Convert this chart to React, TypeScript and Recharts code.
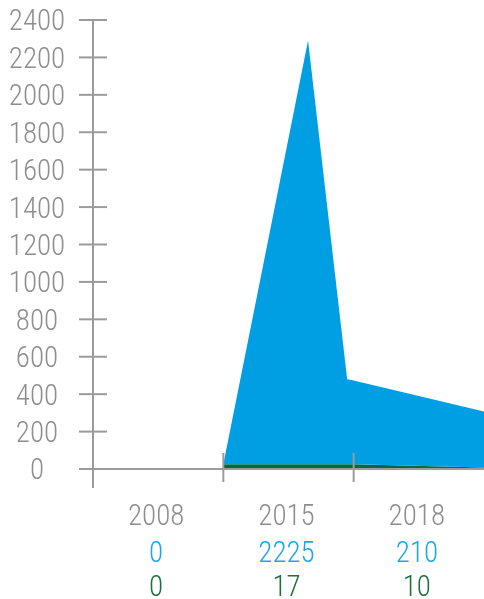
import { Area, ComposedChart, XAxis, YAxis } from "recharts";

const years = ["2008", "2015", "2018"];
const blueTotals = [0, 2225, 210];
const greenTotals = [0, 17, 10];
const yTicks = [0, 200, 400, 600, 800, 1000, 1200, 1400, 1600, 1800, 2000, 2200, 2400];

// area series, x measured in category bands
const areaX = [1, 1.65, 1.95, 2, 3];
const blueArea = [0, 2265, 455, 448, 300];
const greenArea = [25, 25, 25, 25, 8];

const data = areaX.map((x, i) => ({ x, blue: blueArea[i], green: greenArea[i] }));

const AXIS = "#9b9b9b";
const BLUE = "#009fe3";
const GREEN = "#006b3a";
const FONT = "'Roboto Condensed', 'Liberation Sans Narrow', sans-serif";

function YTick({ x, y, payload }: any) {
  return (
    <g>
      <line x1={x - 14} x2={x + 14} y1={y} y2={y} stroke={AXIS} strokeWidth={2} />
      <text x={x - 56} y={y} dy="0.36em" textAnchor="middle" fill="#8e8e8e" fontSize={29} fontWeight={300} fontFamily={FONT}>
        {payload.value}
      </text>
    </g>
  );
}

function XTick({ x, y, payload }: any) {
  const v = payload.value;
  if (Number.isInteger(v)) {
    if (v === 0) return <line x1={x} x2={x} y1={y} y2={y + 19} stroke={AXIS} strokeWidth={2} />;
    if (v >= 3) return <g />;
    return <line x1={x} x2={x} y1={y - 16} y2={y + 13} stroke={AXIS} strokeWidth={2} />;
  }
  const i = Math.floor(v);
  return (
    <g fontFamily={FONT} fontSize={29} fontWeight={300} textAnchor="middle">
      <text x={x - 2} y={y + 56} fill="#8e8e8e">{years[i]}</text>
      <text x={x - 2} y={y + 93} fill="#1ba6e6">{blueTotals[i]}</text>
      <text x={x - 2} y={y + 127} fill="#1e6e3e">{greenTotals[i]}</text>
    </g>
  );
}

export default function App() {
  return (
    <div style={{ position: "fixed", top: 8, left: 8, width: 476, height: 591, overflow: "hidden" }}>
      <ComposedChart width={476} height={591} data={data} margin={{ top: 12, right: 0, bottom: 0, left: 0 }}>
        <XAxis
          type="number"
          dataKey="x"
          domain={[0, 3]}
          ticks={[0, 0.5, 1, 1.5, 2, 2.5, 3]}
          interval={0}
          height={130}
          tickSize={0}
          tickMargin={0}
          tickLine={false}
          tick={<XTick />}
          axisLine={{ stroke: AXIS, strokeWidth: 2 }}
          allowDataOverflow
        />
        <YAxis
          type="number"
          domain={[0, 2400]}
          ticks={yTicks}
          interval={0}
          width={85}
          tickSize={0}
          tickMargin={0}
          tickLine={false}
          tick={<YTick />}
          axisLine={{ stroke: AXIS, strokeWidth: 2 }}
        />
        <Area type="linear" dataKey="green" stackId="1" fill={GREEN} fillOpacity={1} stroke="none" isAnimationActive={false} />
        <Area type="linear" dataKey="blue" stackId="1" fill={BLUE} fillOpacity={1} stroke="none" isAnimationActive={false} />
      </ComposedChart>
    </div>
  );
}
